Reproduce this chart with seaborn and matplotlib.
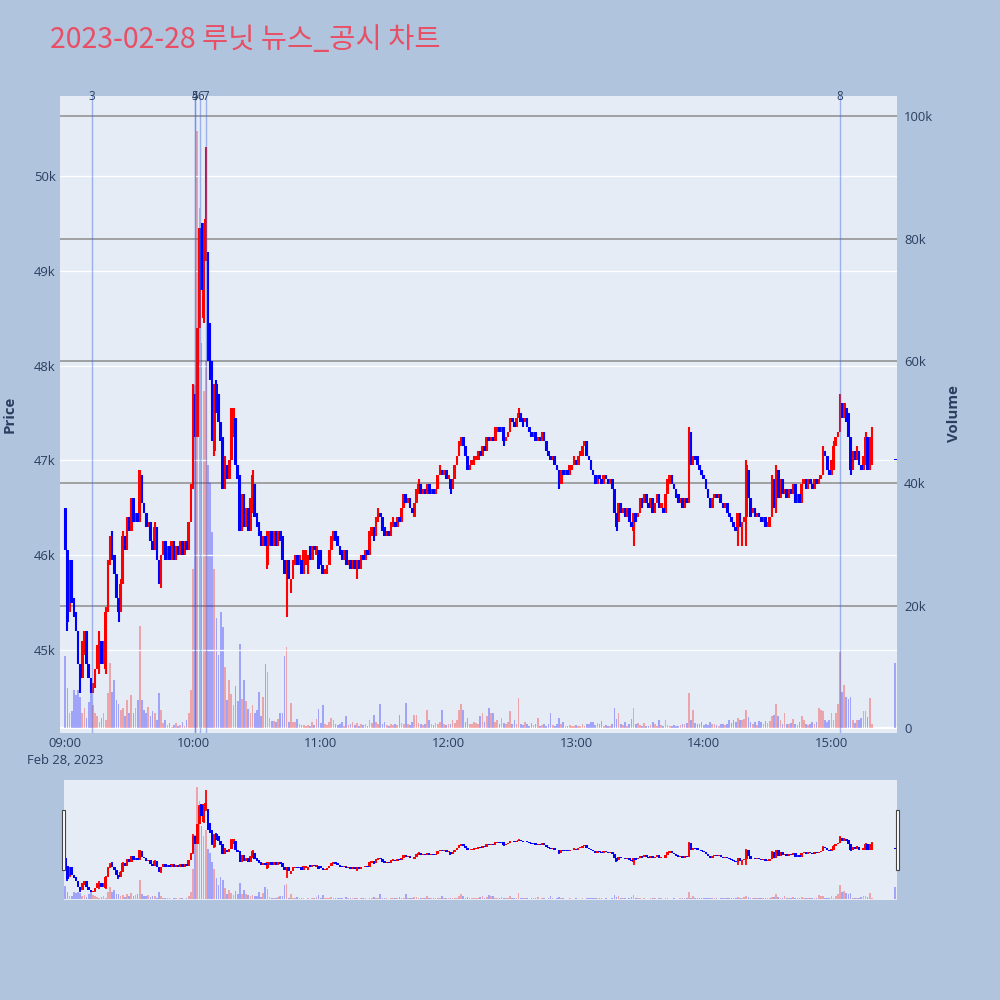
import numpy as np
import pandas as pd
import matplotlib
matplotlib.use("Agg")
import matplotlib.pyplot as plt
from matplotlib.patches import Rectangle
from matplotlib.transforms import blended_transform_factory
import seaborn as sns

# ---------------- data ----------------
TITLE = "2023-02-28 루닛 뉴스_공시 차트"
DAY = "2023-02-28"
FIRST_BAR = "09:00"
LAST_CONT_BAR = "15:19"
CLOSE_AUCTION = "15:30"

opens_str = """
46500 46050 45450 45950 45550 45400 45200 44850 44700 44950
45200 44850 44700 44550 44650 44800 44850 45100 44850 44800
45400 45900 46150 46000 45800 45550 45400 45700 46200 46050
46400 46250 46600 46350 46450 46350 46850 46550 46450 46300
46350 46150 46050 46300 45950 45700 46000 46150 45950 46100
45950 46150 45950 46100 46000 46150 46000 46150 46050 46350
46750 47700 47250 48400 49450 48500 49200 49200 48450 48050
47100 47800 47700 47400 47250 46700 46950 46800 47000 47250
47450 46950 46850 46250 46650 46300 46500 46250 46450 46750
46450 46350 46250 46100 46200 45900 46100 46250 46100 46250
46100 46250 46200 45950 45800 45950 45600 45750 45900 46000
45900 45950 45800 45900 45800 46100 45950 46100 46000 46050
46050 45900 45800 45800 45900 46050 46150 46250 46200 46100
46050 45950 46050 45900 45950 45850 45950 45800 45950 45850
46000 45950 46050 46000 46200 46300 46200 46350 46450 46400
46300 46200 46250 46200 46300 46350 46300 46400 46350 46500
46650 46550 46600 46500 46400 46550 46650 46750 46650 46700
46650 46750 46650 46700 46650 46700 46850 46900 46850 46900
46800 46800 46700 46800 46950 47050 47150 47250 47150 47050
46900 46950 46950 47000 47000 47100 47050 47150 47100 47250
47200 47250 47200 47300 47350 47300 47350 47200 47250 47300
47450 47400 47350 47450 47500 47450 47400 47450 47350 47300
47250 47300 47200 47250 47200 47300 47200 47100 47050 47000
47050 46950 46900 46750 46900 46850 46900 46850 46900 46950
47000 46950 47050 47050 47150 47200 47050 47000 46900 46850
46750 46850 46800 46750 46850 46800 46750 46800 46700 46450
46350 46550 46450 46500 46400 46500 46350 46250 46450 46400
46450 46600 46550 46650 46550 46500 46600 46450 46550 46650
46500 46500 46450 46650 46750 46850 46750 46700 46650 46550
46600 46500 46600 46550 47300 46950 47050 47050 46950 46900
46850 46800 46700 46600 46500 46600 46650 46600 46650 46550
46500 46550 46450 46400 46350 46300 46250 46450 46300 46350
46400 46900 46600 46450 46500 46400 46450 46400 46350 46400
46300 46300 46400 46800 46450 46900 46600 46800 46650 46700
46600 46700 46650 46750 46550 46650 46550 46750 46800 46700
46800 46750 46700 46800 46750 46800 46850 47100 47050 46900
46850 46900 47150 47250 47300 47600 47450 47550 47500 47250
46900 47100 47000 47100 46950 46900 46950 47250 46900 46950
47000
"""

closes_str = """
46050 45300 45950 45500 45350 45200 44850 44700 45100 45200
44850 44700 44600 44650 44800 45000 45100 44850 45000 45400
45900 46100 45950 45800 45550 45400 45700 46200 46050 46400
46250 46600 46350 46450 46350 46900 46550 46450 46300 46350
46150 46050 46300 45950 45700 46000 46150 45950 46100 45950
46150 45950 46100 46000 46150 46000 46150 46050 46350 46750
47700 47250 48400 49400 48800 49500 49550 48050 47850 47250
47750 47500 47400 47200 46700 47050 46800 47000 47500 47550
46950 46800 46250 46650 46300 46500 46250 46600 46850 46400
46300 46200 46100 46200 46100 46250 46250 46100 46250 46100
46250 46150 45950 45800 45950 45750 45750 45950 46000 45900
46000 45800 46050 46050 46000 45950 46100 46050 46100 45850
45900 45800 45850 45900 46050 46200 46250 46150 46100 46000
45950 46050 45900 45950 45850 45950 45850 45950 45850 46000
45950 46050 46000 46250 46300 46150 46400 46450 46400 46250
46200 46250 46200 46350 46400 46300 46400 46350 46500 46650
46550 46600 46500 46450 46550 46700 46750 46650 46700 46650
46750 46650 46700 46650 46700 46850 46900 46850 46900 46800
46850 46700 46800 46950 47050 47200 47250 47150 47050 46900
46950 47000 47050 47050 47100 47050 47150 47100 47250 47200
47250 47200 47350 47350 47300 47350 47200 47250 47300 47450
47400 47350 47450 47500 47400 47350 47450 47350 47300 47250
47300 47200 47250 47200 47300 47200 47100 47050 47000 47050
46950 46900 46750 46900 46850 46900 46850 46950 46950 47050
46950 47050 47100 47150 47200 47050 47000 46900 46850 46750
46850 46800 46750 46850 46800 46750 46800 46700 46450 46300
46550 46450 46500 46400 46500 46350 46300 46450 46350 46450
46600 46500 46650 46550 46500 46600 46450 46550 46650 46500
46550 46450 46650 46800 46850 46750 46700 46600 46550 46600
46500 46600 46550 47300 46950 47050 47000 46950 46900 46850
46800 46700 46600 46500 46600 46650 46600 46650 46550 46500
46550 46450 46400 46350 46300 46250 46450 46300 46350 46400
46950 46600 46400 46500 46400 46450 46400 46350 46400 46300
46350 46400 46800 46500 46900 46600 46800 46650 46700 46600
46700 46650 46750 46550 46650 46550 46750 46800 46700 46800
46750 46700 46800 46750 46800 46850 47100 47050 46900 46850
47000 47150 47250 47300 47650 47450 47600 47400 47250 46900
47100 47000 47150 46950 46900 47050 47250 46900 47250 47300
47000
"""

# extra wick extents (bar index -> price)
wick_high = {15: 45050, 16: 45200, 18: 45100, 19: 45450, 20: 45950, 21: 46200,
             22: 46250, 26: 45750, 27: 46250, 42: 46350,
             60: 47800, 63: 49450, 64: 49500, 66: 50300, 70: 47800, 71: 47850,
             78: 47550, 88: 46900,
             147: 46500, 166: 46800, 176: 46950, 213: 47550,
             293: 47350, 320: 47000, 332: 46850, 334: 46950, 356: 47150,
             361: 47200, 364: 47700, 376: 47300, 379: 47350}
wick_low = {1: 45200, 2: 45400, 7: 44550, 12: 44550, 14: 44600, 16: 44750,
            19: 44750, 25: 45300, 45: 45650,
            60: 46700, 65: 48450, 66: 49100, 69: 47200, 70: 47050, 95: 45850,
            104: 45350,
            137: 45750, 181: 46650, 206: 47150, 232: 46700,
            259: 46250, 267: 46100, 316: 46100, 318: 46100, 320: 46100, 369: 46850}

volume_str = """
11700 6500 2400 2700 6200 5400 6200 5000 2400 3200
1600 4300 5700 3800 2400 1900 1000 1600 2400 1300
5700 10600 5900 7800 4600 4000 2900 3200 1900 4600
2400 5400 2400 3200 4600 16600 4600 2900 2400 3500
1900 2700 2400 1300 5700 2900 800 1300 500 800
200 500 800 300 500 1000 300 1300 2400 6200
26000 56000 97500 85000 63000 55000 60000 43000 40000 32000
26000 18000 12000 19000 16500 10000 4500 7800 5500 3800
6800 4400 13800 4800 7800 4400 3100 2400 3800 2400
3000 5800 2000 5100 10500 9100 1700 1100 1200 1000
1500 2400 2400 11800 13300 1000 4100 1000 1000 1400
700 500 500 400 500 400 1000 500 1400 3100
800 3800 600 500 900 1600 1300 700 500 600
1000 400 1900 500 700 900 500 800 400 600
500 700 400 1300 800 2100 900 700 4000 600
1000 500 400 700 500 600 500 2100 800 700
4100 600 500 1000 2100 2100 800 600 500 700
2900 1300 600 500 800 700 900 2900 600 500
700 600 1300 800 1300 2900 4000 2900 900 1600
700 600 1000 800 700 1900 2400 900 1900 3200
2400 2400 900 1300 700 1600 800 600 900 2700
700 1300 600 4900 700 500 1000 600 400 800
500 600 1600 400 500 600 400 700 2400 500
400 600 1600 700 1000 400 300 500 400 300
500 300 400 600 400 700 600 900 1000 500
800 600 1100 400 500 300 400 600 3200 1500
2400 600 500 1000 400 600 1500 3200 700 800
500 400 800 400 300 500 1000 600 400 1300
500 400 1300 500 400 300 500 400 400 500
600 700 800 5700 1300 2900 800 700 600 1000
500 700 500 1000 600 700 500 400 600 700
500 700 1300 800 1300 1000 1600 1300 1300 1400
2900 1800 900 700 1000 500 1100 900 600 1100
800 1100 1900 2100 4000 1900 1300 600 2400 700
600 800 1500 600 500 1000 1900 1300 700 500
600 900 700 1000 3200 2900 2700 1300 1000 1300
2400 1300 2400 4000 12500 5900 7000 5100 4800 5100
1300 800 1300 1300 1600 2700 2700 1800 4900 600
10700
"""

price_ticks = [45000, 46000, 47000, 48000, 49000, 50000]
price_tick_labels = ["45k", "46k", "47k", "48k", "49k", "50k"]
volume_ticks = [0, 20000, 40000, 60000, 80000, 100000]
volume_tick_labels = ["0", "20k", "40k", "60k", "80k", "100k"]
time_tick_labels = ["09:00", "10:00", "11:00", "12:00", "13:00", "14:00", "15:00"]
date_label = "Feb 28, 2023"

event_labels = ["3", "4", "5", "6", "7", "8"]
event_times = ["09:12:30", "10:00:54", "10:00:54", "10:03:24", "10:06:00", "15:04:00"]

# ---------------- table ----------------
opens = [int(v) for v in opens_str.split()]
closes = [int(v) for v in closes_str.split()]
volumes = [int(v) for v in volume_str.split()]

start = pd.Timestamp(f"{DAY} {FIRST_BAR}")
times = pd.date_range(start, pd.Timestamp(f"{DAY} {LAST_CONT_BAR}"), freq="min")
times = times.append(pd.DatetimeIndex([pd.Timestamp(f"{DAY} {CLOSE_AUCTION}")]))
minutes = (times - start).total_seconds() / 60.0

df = pd.DataFrame({"t": minutes, "open": opens, "close": closes, "volume": volumes})
df["high"] = [max(o, c, wick_high.get(i, 0)) for i, (o, c) in enumerate(zip(opens, closes))]
df["low"] = [min(o, c, wick_low.get(i, 10 ** 9)) for i, (o, c) in enumerate(zip(opens, closes))]
df["dir"] = np.where(df["close"] > df["open"], "up", "down")

tick_pos = [(pd.Timestamp(f"{DAY} {s}") - start).total_seconds() / 60 for s in time_tick_labels]
tick_text = [s if i else f"{s}\n{date_label}" for i, s in enumerate(time_tick_labels)]
event_pos = [(pd.Timestamp(f"{DAY} {s}") - start).total_seconds() / 60 for s in event_times]

# ---------------- style ----------------
sns.set_theme(style="white")
plt.rcParams["font.family"] = ["Open Sans", "DejaVu Sans"]
PAPER = "#B0C4DE"
PLOT_BG = "#E5ECF6"
INK = "#2a3f5f"
DIR_COLORS = {"up": "#FF0000", "down": "#0000FF"}

PRICE_LIM = (44125, 50842)
VOL_LIM = (-820, 103300)

fig = plt.figure(figsize=(10, 10), dpi=100, facecolor=PAPER)


def draw_candles(ax, frame, body_w, wick_lw):
    for key, color in DIR_COLORS.items():
        sub = frame[frame["dir"] == key]
        ax.vlines(sub["t"], sub["low"], sub["high"], colors=color, lw=wick_lw, zorder=3)
        lo = np.minimum(sub["open"], sub["close"])
        hgt = np.maximum((sub["close"] - sub["open"]).abs(), 14)
        ax.bar(sub["t"], hgt, bottom=lo, width=body_w, color=color, lw=0, zorder=3)


def draw_volume(ax):
    sns.barplot(data=df, x="t", y="volume", hue="dir", hue_order=["up", "down"],
                palette=DIR_COLORS, native_scale=True, width=0.8, alpha=0.3,
                saturation=1, errorbar=None, legend=False, linewidth=0, ax=ax)
    ax.set_xlabel("")
    ax.set_ylabel("")


# ---------------- main panel ----------------
ax_vol = fig.add_axes([0.060, 0.267, 0.837, 0.637])
ax_vol.set_facecolor(PLOT_BG)
draw_volume(ax_vol)
ax_vol.set_ylim(*VOL_LIM)
ax_vol.set_yticks(volume_ticks)
ax_vol.set_yticklabels(volume_tick_labels)
ax_vol.set_axisbelow(True)
ax_vol.yaxis.grid(True, color="#8c8c8c", lw=1.1)
ax_vol.xaxis.grid(False)
ax_vol.axhline(0, color="white", lw=1.6, zorder=0.8)
ax_vol.set_xticks(tick_pos)
ax_vol.set_xticklabels(tick_text, linespacing=1.35)

ax_px = ax_vol.twinx()
ax_px.patch.set_visible(False)
draw_candles(ax_px, df, body_w=1.25, wick_lw=1.5)
ax_px.set_ylim(*PRICE_LIM)
ax_px.set_yticks(price_ticks)
ax_px.set_yticklabels(price_tick_labels)
ax_px.yaxis.grid(True, color="white", lw=0.9, zorder=0)
ax_px.set_axisbelow(True)
# price on the left, volume on the right
ax_px.yaxis.tick_left()
ax_vol.yaxis.tick_right()

trans = blended_transform_factory(ax_px.transData, ax_px.transAxes)
for lab, pos in zip(event_labels, event_pos):
    ax_px.axvline(pos, color="royalblue", lw=1.0, alpha=0.45, zorder=6)
    ax_px.text(pos, 0.9985, lab, transform=trans, ha="center", va="center",
               fontsize=8.3, color=INK, zorder=7)

for a in (ax_vol, ax_px):
    a.set_xlim(-2.5, 390.8)
    for s in a.spines.values():
        s.set_visible(False)
    a.tick_params(length=0, labelsize=9.4, labelcolor=INK, pad=3)
ax_vol.tick_params(axis="y", pad=5)

fig.text(0.010, 0.586, "Price", rotation=90, ha="center", va="center",
         fontsize=10.8, fontweight="bold", color=INK)
fig.text(0.954, 0.586, "Volume", rotation=90, ha="center", va="center",
         fontsize=10.8, fontweight="bold", color=INK)

fig.text(0.050, 0.960, TITLE, ha="left", va="center", fontsize=20.5,
         color="#E84E64", family=["Noto Sans CJK KR", "DejaVu Sans"])

# ---------------- range slider ----------------
ax_sv = fig.add_axes([0.064, 0.100, 0.833, 0.120])
ax_sv.set_facecolor(PLOT_BG)
draw_volume(ax_sv)
ax_sv.set_ylim(*VOL_LIM)
ax_sp = ax_sv.twinx()
ax_sp.patch.set_visible(False)
draw_candles(ax_sp, df, body_w=1.2, wick_lw=1.3)
ax_sp.set_ylim(*PRICE_LIM)
for a in (ax_sv, ax_sp):
    a.set_xlim(-0.6, 390.8)
    a.set_xticks([])
    a.set_yticks([])
    a.grid(False)
    for s in a.spines.values():
        s.set_visible(False)

for hx in (0.0615, 0.8955):
    fig.add_artist(Rectangle((hx, 0.130), 0.0037, 0.060, transform=fig.transFigure,
                             facecolor="white", edgecolor="#444444", lw=0.8, zorder=10))

fig.savefig("out.png", dpi=100, facecolor=PAPER)
